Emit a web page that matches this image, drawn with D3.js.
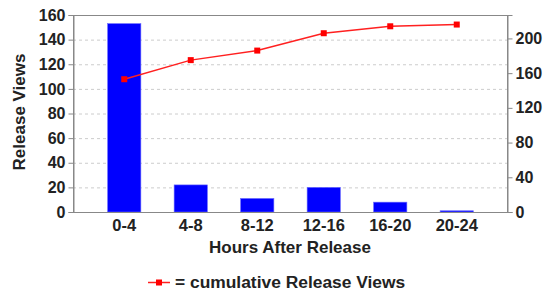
<!DOCTYPE html>
<html>
<head>
<meta charset="utf-8">
<script src="https://cdn.jsdelivr.net/npm/d3@7"></script>
<style>
  body { margin: 0; background: #fff; }
  text { font-family: "Liberation Sans", Arial, sans-serif; font-weight: bold; fill: #222; }
</style>
</head>
<body>
<div id="chart"></div>
<script>
let hours = ['0-4', '4-8', '8-12', '12-16', '16-20', '20-24'];
let releaseViews = [153, 22, 11, 20, 8, 1];
let cumulativeViews = [153, 175, 186, 206, 214, 216];
let leftTicks = [0, 20, 40, 60, 80, 100, 120, 140, 160];
let rightTicks = [0, 40, 80, 120, 160, 200];

let width = 545,
    height = 290,
    plot = {left: 73, right: 507, top: 15, bottom: 212};

let svg = d3.select('#chart').append('svg')
    .attr('width', width)
    .attr('height', height);

let xScale = d3.scaleBand()
    .domain(hours)
    .range([91, 490])
    .padding(0.5)
    .paddingOuter(0.25);

let yLeft = d3.scaleLinear()
    .domain([0, 160])
    .range([plot.bottom, plot.top]);

let yRight = d3.scaleLinear()
    .domain([0, 227])
    .range([plot.bottom, plot.top]);

// dashed grid
svg.append('g')
    .selectAll('line')
    .data(leftTicks.filter(d => d > 0 && d < 160))
    .join('line')
    .attr('x1', plot.left)
    .attr('x2', plot.right)
    .attr('y1', d => yLeft(d) + 0.5)
    .attr('y2', d => yLeft(d) + 0.5)
    .attr('stroke', '#ccc')
    .attr('stroke-dasharray', '3,3');

// bars
svg.append('g')
    .selectAll('rect')
    .data(hours)
    .join('rect')
    .attr('x', d => xScale(d))
    .attr('y', (d, i) => yLeft(releaseViews[i]))
    .attr('width', xScale.bandwidth())
    .attr('height', (d, i) => plot.bottom - yLeft(releaseViews[i]))
    .attr('fill', '#0000ff')
    .attr('stroke', '#6a6aff')
    .attr('stroke-width', 0.6);

// frame
svg.append('rect')
    .attr('x', plot.left + 0.5)
    .attr('y', plot.top + 0.5)
    .attr('width', plot.right - plot.left)
    .attr('height', plot.bottom - plot.top)
    .attr('fill', 'none')
    .attr('stroke', '#888')
    .attr('stroke-width', 1);

// left axis
let leftAxis = svg.append('g')
    .attr('transform', `translate(${plot.left + 0.5},0)`)
    .call(d3.axisLeft(yLeft).tickValues(leftTicks).tickSize(5).tickPadding(3));
leftAxis.select('.domain').attr('stroke', '#888');
leftAxis.selectAll('.tick line').attr('stroke', '#888');
leftAxis.selectAll('text').style('font-size', '16px').attr('fill', '#222');

// right axis
let rightAxis = svg.append('g')
    .attr('transform', `translate(${plot.right + 0.5},0)`)
    .call(d3.axisRight(yRight).tickValues(rightTicks).tickSize(5).tickPadding(3));
rightAxis.select('.domain').attr('stroke', '#888');
rightAxis.selectAll('.tick line').attr('stroke', '#888');
rightAxis.selectAll('text').style('font-size', '16px').attr('fill', '#222');

// bottom axis
let bottomAxis = svg.append('g')
    .attr('transform', `translate(0,${plot.bottom + 0.5})`)
    .call(d3.axisBottom(xScale).tickSize(0).tickPadding(7));
bottomAxis.select('.domain').remove();
bottomAxis.selectAll('text').style('font-size', '16.5px').attr('fill', '#222');

// cumulative line
let line = d3.line()
    .x((d, i) => xScale(hours[i]) + xScale.bandwidth() / 2)
    .y(d => yRight(d));

svg.append('path')
    .datum(cumulativeViews)
    .attr('d', line)
    .attr('fill', 'none')
    .attr('stroke', '#ff2020')
    .attr('stroke-width', 1.5);

svg.append('g')
    .selectAll('rect')
    .data(cumulativeViews)
    .join('rect')
    .attr('x', (d, i) => xScale(hours[i]) + xScale.bandwidth() / 2 - 3)
    .attr('y', d => yRight(d) - 3)
    .attr('width', 6)
    .attr('height', 6)
    .attr('fill', '#ff0000');

// axis titles
svg.append('text')
    .attr('transform', `translate(25,112) rotate(-90)`)
    .attr('text-anchor', 'middle')
    .style('font-size', '17px')
    .text('Release Views');

svg.append('text')
    .attr('x', (plot.left + plot.right) / 2)
    .attr('y', 253)
    .attr('text-anchor', 'middle')
    .style('font-size', '17px')
    .text('Hours After Release');

// legend
let legend = svg.append('g').attr('transform', 'translate(148,282)');
legend.append('line')
    .attr('x1', 0).attr('x2', 22)
    .attr('y1', 0.5).attr('y2', 0.5)
    .attr('stroke', '#ff2020')
    .attr('stroke-width', 1.5);
legend.append('rect')
    .attr('x', 8).attr('y', -2.5)
    .attr('width', 6).attr('height', 6)
    .attr('fill', '#ff0000');
legend.append('text')
    .attr('x', 27)
    .attr('y', 5.5)
    .style('font-size', '17.4px')
    .text('= cumulative Release Views');
</script>
</body>
</html>
